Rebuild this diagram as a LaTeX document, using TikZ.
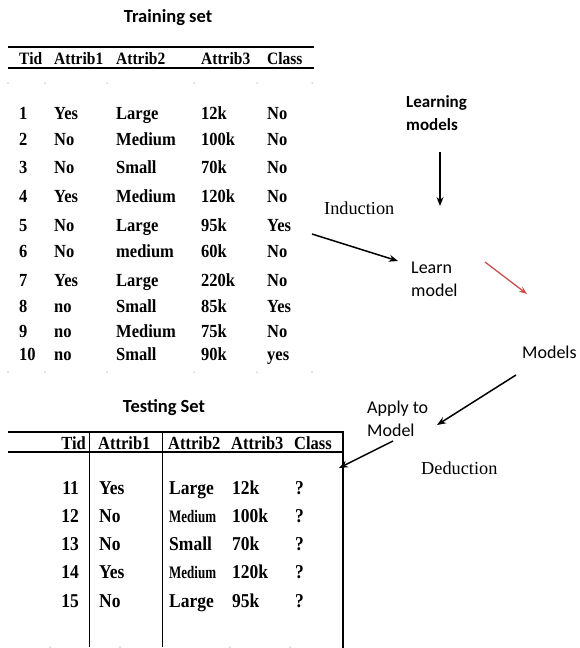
\documentclass[tikz,border=0pt]{standalone}
\usepackage{fontspec}
\setmainfont{Liberation Serif}
\newfontfamily\calib{Carlito}
\usetikzlibrary{arrows.meta}
\newcommand{\talltxt}[2][1.12]{\scalebox{1}[#1]{#2}}
\begin{document}
\begin{tikzpicture}[x=1pt,y=-1pt,
  cell/.style={font=\fontsize{16.5}{18}\selectfont\bfseries, anchor=base west, inner sep=0pt},
  tcell/.style={font=\fontsize{17.5}{19}\selectfont\bfseries, anchor=base west, inner sep=0pt},
  hcell/.style={font=\fontsize{15.5}{17}\selectfont\bfseries, anchor=base west, inner sep=0pt},
  thcell/.style={font=\fontsize{16.5}{18}\selectfont\bfseries, anchor=base west, inner sep=0pt},
  smallcell/.style={font=\fontsize{13}{14}\selectfont\bfseries, anchor=base west, inner sep=0pt},
  title/.style={font=\calib\fontsize{18.5}{20}\selectfont\bfseries, inner sep=0pt},
  clabel/.style={font=\calib\fontsize{18}{23}\selectfont, inner sep=0pt, align=left, anchor=west},
  clabelb/.style={font=\calib\fontsize{17}{23}\selectfont\bfseries, inner sep=0pt, align=left, anchor=west},
  slabel/.style={font=\fontsize{18.3}{20}\selectfont, inner sep=0pt, anchor=west},
  arr/.style={line width=1.5pt, -{Stealth[length=9pt,width=7pt]}},
  rule/.style={line width=1.2pt},
  dot/.style={fill=gray!60, inner sep=0pt, minimum size=1.5pt, circle}]
\useasboundingbox (0,0) rectangle (579,648);

% Training set
\node[title] (trtitle) at (168,18) {Training set};
\draw[rule] (8,47) -- (314,47);
\draw[rule] (8,68) -- (314,68);
\node[hcell] (h1) at (19,64) {\talltxt{Tid}};
\node[hcell] (h2) at (54,64) {\talltxt{Attrib1}};
\node[hcell] (h3) at (116,64) {\talltxt{Attrib2}};
\node[hcell] (h4) at (201,64) {\talltxt{Attrib3}};
\node[hcell] (h5) at (267,64) {\talltxt{Class}};
\foreach \x in {8,45,107,194,257,312} {
  \node[dot] (dA\x) at (\x,83) {};
  \node[dot] (dB\x) at (\x,372) {};
}
\foreach \i/\y/\a/\b/\c/\d in {1/119/Yes/Large/12k/No, 2/145/No/Medium/100k/No, 3/173/No/Small/70k/No, 4/202/Yes/Medium/120k/No, 5/231/No/Large/95k/Yes, 6/257/No/medium/60k/No, 7/286/Yes/Large/220k/No, 8/312/no/Small/85k/Yes, 9/337/no/Medium/75k/No, 10/360/no/Small/90k/yes} {
  \node[cell] (r\i c0) at (19,\y) {\talltxt{\i}};
  \node[cell] (r\i c1) at (54,\y) {\talltxt{\a}};
  \node[cell] (r\i c2) at (116,\y) {\talltxt{\b}};
  \node[cell] (r\i c3) at (201,\y) {\talltxt{\c}};
  \node[cell] (r\i c4) at (267,\y) {\talltxt{\d}};
}

% Right side labels
\node[clabelb] (lm) at (406,113) {Learning\\models};
\node[slabel] (ind) at (324,208) {Induction};
\node[clabel] (learn) at (411,279) {Learn\\model};
\node[clabel] (models) at (522,352) {Models};
\node[clabel] (apply) at (367,419) {Apply to\\Model};
\node[slabel] (ded) at (421,468) {Deduction};

\coordinate (a1s) at (440,152); \coordinate (a1e) at (440,206);
\coordinate (a2s) at (312,234); \coordinate (a2e) at (398,261);
\coordinate (a3s) at (485,262); \coordinate (a3e) at (527,294);
\coordinate (a4s) at (516,375); \coordinate (a4e) at (437,425);
\coordinate (a5s) at (393,441); \coordinate (a5e) at (339,468);
\draw[arr] (a1s) -- (a1e);
\draw[arr] (a2s) -- (a2e);
\draw[line width=1.3pt, color={rgb,255:red,200;green,80;blue,80}, -{Stealth[length=8pt,width=6pt]}] (a3s) -- (a3e);
\draw[arr] (a4s) -- (a4e);
\draw[arr] (a5s) -- (a5e);

% Testing set
\node[title] (tetitle) at (164,408) {Testing Set};
\draw[rule] (8,432) -- (343,432);
\draw[rule] (8,452) -- (343,452);
\draw[line width=0.9pt] (89,432) -- (89,647);
\draw[line width=0.9pt] (162,432) -- (162,647);
\draw[line width=2pt] (343,431) -- (343,648);
\node[thcell, anchor=base east] (th1) at (86,449) {\talltxt{Tid}};
\node[thcell] (th2) at (98,449) {\talltxt{Attrib1}};
\node[thcell] (th3) at (168,449) {\talltxt{Attrib2}};
\node[thcell] (th4) at (231,449) {\talltxt{Attrib3}};
\node[thcell] (th5) at (294,449) {\talltxt{Class}};
\foreach \x in {50,120,230,290} {
  \node[dot] (dC\x) at (\x,647) {};
}
\foreach \i/\y/\a/\c in {11/494/Yes/12k, 12/522/No/100k, 13/550/No/70k, 14/578/Yes/120k, 15/607/No/95k} {
  \node[tcell, anchor=base east] (s\i c0) at (79,\y) {\talltxt{\i}};
  \node[tcell] (s\i c1) at (99,\y) {\talltxt{\a}};
  \node[tcell] (s\i c3) at (232,\y) {\talltxt{\c}};
  \node[tcell] (s\i c4) at (295,\y) {\talltxt{?}};
}
\node[tcell] (s11c2) at (169,494) {\talltxt{Large}};
\node[smallcell] (s12c2) at (169,522) {\talltxt[1.35]{Medium}};
\node[tcell] (s13c2) at (169,550) {\talltxt{Small}};
\node[smallcell] (s14c2) at (169,578) {\talltxt[1.35]{Medium}};
\node[tcell] (s15c2) at (169,607) {\talltxt{Large}};
\end{tikzpicture}
\end{document}
